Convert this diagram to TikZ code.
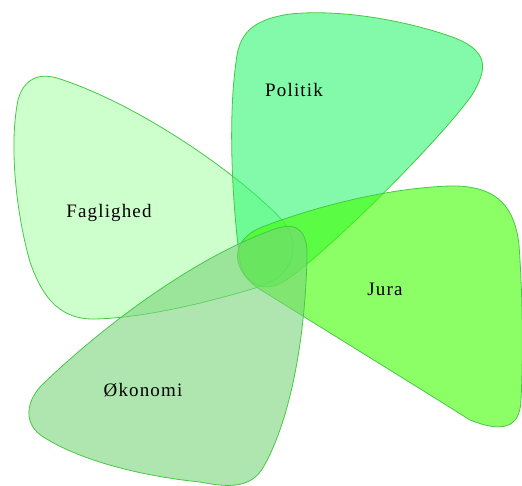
\documentclass[tikz,border=0pt]{standalone}
\usepackage{fontspec}
\setmainfont{Liberation Serif}[LetterSpace=6]
\usepackage{tikz}

\definecolor{fagcol}{RGB}{170,255,170}
\definecolor{polcol}{RGB}{47,247,113}
\definecolor{juracol}{RGB}{63,255,0}
\definecolor{okocol}{RGB}{122,213,122}
\definecolor{petalline}{RGB}{70,200,70}

\tikzstyle{petal} = [draw=petalline, line width=0.8pt, fill opacity=0.6]
\tikzstyle{petaltext} = [inner sep=0pt, anchor=base,
    font=\fontsize{19}{22}\selectfont]

\begin{document}
\begin{tikzpicture}[x=1pt,y=-1pt]
\useasboundingbox (0,0) rectangle (522,486);

% Faglighed
\draw[petal, fill=fagcol] (60,79)
    .. controls (140,105) and (240,175) .. (282,220)
    .. controls (300,240) and (298,272) .. (262,286)
    .. controls (200,305) and (140,318) .. (95,319)
    .. controls (55,320) and (40,290) .. (30,262)
    .. controls (18,220) and (8,150) .. (18,100)
    .. controls (24,78) and (40,72) .. (60,79) -- cycle;

% Politik
\draw[petal, fill=polcol] (240,262)
    .. controls (232,200) and (228,120) .. (236,62)
    .. controls (239,35) and (250,20) .. (290,14)
    .. controls (350,8) and (420,25) .. (455,38)
    .. controls (490,52) and (487,70) .. (472,95)
    .. controls (440,140) and (330,250) .. (285,281)
    .. controls (262,295) and (244,282) .. (240,262) -- cycle;

% Jura
\draw[petal, fill=juracol] (262,227)
    .. controls (320,205) and (390,188) .. (450,186)
    .. controls (500,185) and (515,210) .. (519,245)
    .. controls (523,300) and (523,360) .. (521,400)
    .. controls (520,430) and (500,432) .. (470,420)
    .. controls (400,376) and (320,327) .. (258,288)
    .. controls (230,268) and (230,240) .. (262,227) -- cycle;

% Okonomi
\draw[petal, fill=okocol] (307,258)
    .. controls (305,340) and (290,420) .. (264,466)
    .. controls (252,488) and (230,488) .. (200,482)
    .. controls (140,476) and (80,460) .. (45,438)
    .. controls (22,425) and (25,400) .. (45,382)
    .. controls (110,320) and (200,255) .. (275,229)
    .. controls (300,220) and (308,235) .. (307,258) -- cycle;

\node[petaltext] (politik) at (294,97) {Politik};
\node[petaltext] (faglighed) at (109,218) {Faglighed};
\node[petaltext] (jura) at (385,296) {Jura};
\node[petaltext] (okonomi) at (143,396) {Økonomi};

\end{tikzpicture}
\end{document}
